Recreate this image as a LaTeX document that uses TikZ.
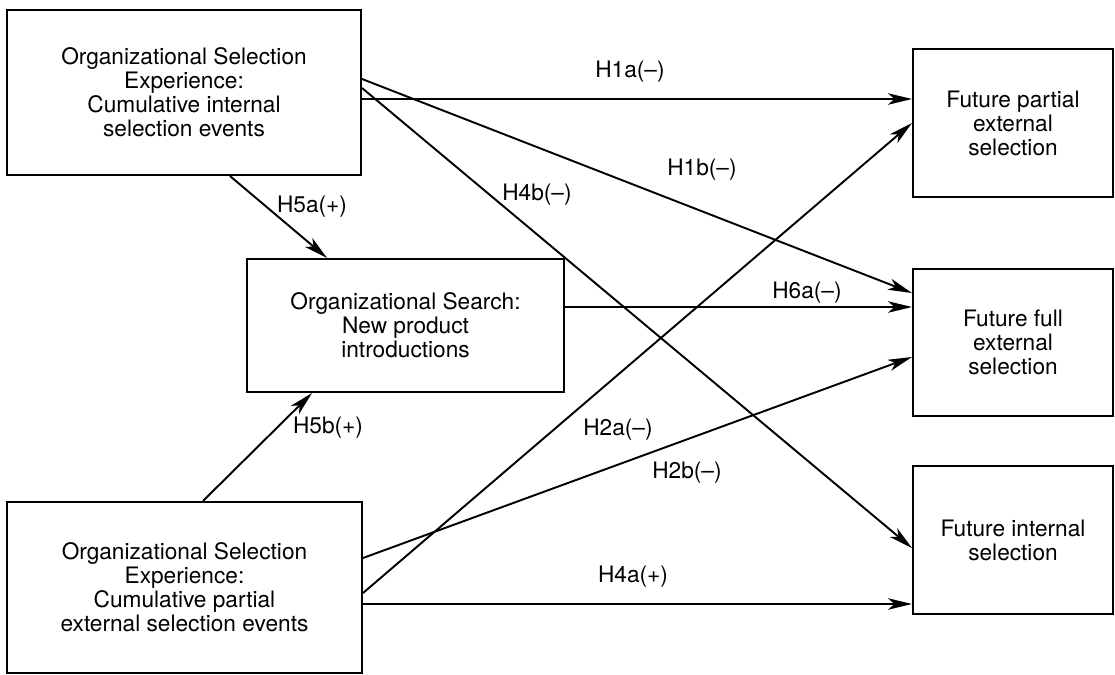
\documentclass[tikz,border=0pt]{standalone}
\usepackage{fontspec}
\setmainfont{TeX Gyre Heros}
\usetikzlibrary{arrows.meta}

\begin{document}
\begin{tikzpicture}[
    x=0.02cm, y=-0.02cm,
    box/.style={rectangle, draw, line width=1.2pt, align=center, inner sep=2pt, font=\fontsize{12.9}{13.7}\selectfont},
    hyp/.style={font=\fontsize{12.9}{14}\selectfont, inner sep=1pt},
    link/.style={-{Stealth[length=0.48cm, width=0.23cm, inset=0.13cm]}, line width=1.1pt}
]
\useasboundingbox (0,0) rectangle (1115,675);

% Experience and search boxes on the left
\node[box, minimum width=7.08cm, minimum height=3.3cm] (intsel) at (184,92.5)
    {Organizational Selection\\Experience:\\Cumulative internal\\selection events};
\node[box, minimum width=6.34cm, minimum height=2.66cm] (search) at (405.5,325.5)
    {Organizational Search:\\New product\\introductions};
\node[box, minimum width=7.1cm, minimum height=3.42cm] (partsel) at (184.5,587.5)
    {Organizational Selection\\Experience:\\Cumulative partial\\external selection events};

% Outcome boxes on the right
\node[box, minimum width=4cm, minimum height=2.96cm] (futpart) at (1013,123)
    {Future partial\\external\\selection};
\node[box, minimum width=4cm, minimum height=2.94cm] (futfull) at (1013,342.5)
    {Future full\\external\\selection};
\node[box, minimum width=4cm, minimum height=2.96cm] (futint) at (1013,540)
    {Future internal\\selection};

% Arrows from internal selection experience
\draw[link] ([yshift=-0.13cm]intsel.east) -- ([yshift=0.48cm]futpart.west);
\draw[link] ([yshift=0.27cm]intsel.east) -- ([yshift=0.99cm]futfull.west);
\draw[link] ([yshift=0.09cm]intsel.east) -- ([yshift=-0.16cm]futint.west);
\draw[link] ([xshift=0.92cm]intsel.south) -- ([xshift=-1.57cm]search.north);

% Arrows from search
\draw[link] ([yshift=0.37cm]search.east) -- ([yshift=0.71cm]futfull.west);

% Arrows from partial external selection experience
\draw[link] ([xshift=0.37cm]partsel.north) -- ([xshift=-1.87cm]search.south);
\draw[link] ([yshift=0.59cm]partsel.east) -- ([yshift=-0.29cm]futfull.west);
\draw[link] ([yshift=-0.11cm]partsel.east) -- (futpart.west);
\draw[link] ([yshift=-0.33cm]partsel.east) -- ([yshift=-1.28cm]futint.west);

% Hypothesis labels
\node[hyp] (h1a) at (630,72) {H1a(--)};
\node[hyp] (h1b) at (702,170) {H1b(--)};
\node[hyp] (h4b) at (537,195) {H4b(--)};
\node[hyp] (h5a) at (312,207) {H5a(+)};
\node[hyp] (h5b) at (328,428) {H5b(+)};
\node[hyp] (h6a) at (807,293) {H6a(--)};
\node[hyp] (h2a) at (618,430) {H2a(--)};
\node[hyp] (h2b) at (687,473) {H2b(--)};
\node[hyp] (h4a) at (633,577) {H4a(+)};

\end{tikzpicture}
\end{document}
